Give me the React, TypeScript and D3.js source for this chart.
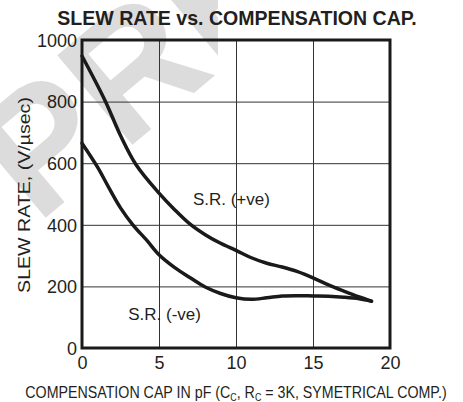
import React, { useEffect, useRef } from "react";
import { select, scaleLinear, axisLeft, axisBottom, line, curveCatmullRom } from "d3";

const xTicks = [0, 5, 10, 15, 20];
const yTicks = [0, 200, 400, 600, 800, 1000];

// S.R. (+ve)
const capPos = [0, 1.5, 2.5, 3.5, 5, 6, 7, 8, 9, 10, 11, 12, 13, 14, 15, 16, 17, 18, 18.8];
const srPos = [948, 803, 690, 596, 503, 450, 403, 368, 340, 317, 293, 275, 263, 248, 228, 205, 185, 166, 152];

// S.R. (-ve)
const capNeg = [0, 1, 1.75, 2.5, 3.3, 4.2, 5, 6, 7, 8, 9, 10, 11, 12, 13, 14, 15, 16, 17, 18, 18.8];
const srNeg = [665, 588, 520, 455, 400, 350, 303, 262, 229, 198, 177, 163, 158, 163, 169, 170, 169, 168, 165, 160, 152];

const FONT = "'Liberation Sans', Arial, sans-serif";
const INK = "#231f20";

// squeeze a text horizontally to a target width
const fitWidth = (sel: any, cx: number, y: number, width: number) => {
  const w = sel.node().getComputedTextLength();
  sel.attr("transform", `translate(${cx},${y}) scale(${width / w},1)`);
};

const SlewChart = () => {
  const chartRef = useRef<SVGSVGElement>(null);

  useEffect(() => {
    const svg = select(chartRef.current);
    svg.selectAll("*").remove();

    const margin = { top: 40, left: 82 };
    const innerWidth = 308;
    const innerHeight = 308;

    const xScale = scaleLinear().domain([0, 20]).range([0, innerWidth]);
    const yScale = scaleLinear().domain([0, 1000]).range([innerHeight, 0]);

    // watermark, only the first letters show in the corner
    svg
      .append("clipPath")
      .attr("id", "wm-clip")
      .append("rect")
      .attr("width", 218)
      .attr("height", 402);
    svg
      .append("g")
      .attr("clip-path", "url(#wm-clip)")
      .append("text")
      .attr("transform", "translate(37,225) rotate(-40)")
      .attr("font-family", FONT)
      .attr("font-weight", "bold")
      .attr("font-size", 170)
      .attr("fill", "#dcdcdc")
      .text("PRELIMINARY");

    const title = svg
      .append("text")
      .attr("text-anchor", "middle")
      .attr("font-family", FONT)
      .attr("font-weight", "bold")
      .attr("font-size", 20)
      .attr("fill", INK)
      .text("SLEW RATE vs. COMPENSATION CAP.");
    fitWidth(title, 237, 25, 360);

    const g = svg.append("g").attr("transform", `translate(${margin.left},${margin.top})`);

    // grid + tick labels
    const yAxisG = g
      .append("g")
      .call(axisLeft(yScale).tickValues(yTicks).tickSize(-innerWidth).tickPadding(5).tickFormat((d) => String(d)));
    yAxisG.select(".domain").remove();
    yAxisG.selectAll("line").attr("stroke", "#333").attr("stroke-width", 1);
    yAxisG.selectAll("text").attr("font-family", FONT).attr("font-size", 18).attr("fill", INK).attr("dy", "0.35em");

    const xAxisG = g
      .append("g")
      .attr("transform", `translate(0,${innerHeight})`)
      .call(axisBottom(xScale).tickValues(xTicks).tickSize(-innerHeight).tickPadding(8).tickFormat((d) => String(d)));
    xAxisG.select(".domain").remove();
    xAxisG.selectAll("line").attr("stroke", "#333").attr("stroke-width", 1);
    xAxisG.selectAll("text").attr("font-family", FONT).attr("font-size", 18).attr("fill", INK);

    // frame
    g.append("rect")
      .attr("width", innerWidth)
      .attr("height", innerHeight)
      .attr("fill", "none")
      .attr("stroke", "#1a1a1a")
      .attr("stroke-width", 3);

    const srLine = line<[number, number]>()
      .x((d) => xScale(d[0]))
      .y((d) => yScale(d[1]))
      .curve(curveCatmullRom.alpha(0.5));

    const posData = capPos.map((c, i) => [c, srPos[i]] as [number, number]);
    const negData = capNeg.map((c, i) => [c, srNeg[i]] as [number, number]);

    [posData, negData].forEach((d) => {
      g.append("path")
        .attr("d", srLine(d))
        .attr("fill", "none")
        .attr("stroke", "#1a1a1a")
        .attr("stroke-width", 3.5)
        .attr("stroke-linecap", "round")
        .attr("stroke-linejoin", "round");
    });

    g.append("text")
      .attr("x", xScale(7.2))
      .attr("y", yScale(465))
      .attr("font-family", FONT)
      .attr("font-size", 17)
      .attr("fill", INK)
      .text("S.R. (+ve)");

    g.append("text")
      .attr("x", xScale(3))
      .attr("y", yScale(90))
      .attr("font-family", FONT)
      .attr("font-size", 17)
      .attr("fill", INK)
      .text("S.R. (-ve)");

    // axis titles
    const yt = svg
      .append("g")
      .attr("transform", "translate(30,195) rotate(-90)")
      .append("text")
      .attr("text-anchor", "middle")
      .attr("font-family", FONT)
      .attr("font-size", 17)
      .attr("fill", INK)
      .text("SLEW RATE, (V/µsec)");
    fitWidth(yt, 0, 0, 196);

    const xt = svg
      .append("text")
      .attr("text-anchor", "middle")
      .attr("font-family", FONT)
      .attr("font-size", 16)
      .attr("fill", INK);
    xt.append("tspan").text("COMPENSATION CAP IN pF (C");
    xt.append("tspan").attr("font-size", 10).attr("dy", 3).text("C");
    xt.append("tspan").attr("dy", -3).text(", R");
    xt.append("tspan").attr("font-size", 10).attr("dy", 3).text("C");
    xt.append("tspan").attr("dy", -3).text(" = 3K, SYMETRICAL COMP.)");
    fitWidth(xt, 236, 398, 422);
  }, []);

  return (
    <svg
      ref={chartRef}
      width="463"
      height="402"
      style={{ position: "absolute", left: 0, top: 0, background: "#fff" }}
    ></svg>
  );
};

export default function App() {
  return <SlewChart />;
}
